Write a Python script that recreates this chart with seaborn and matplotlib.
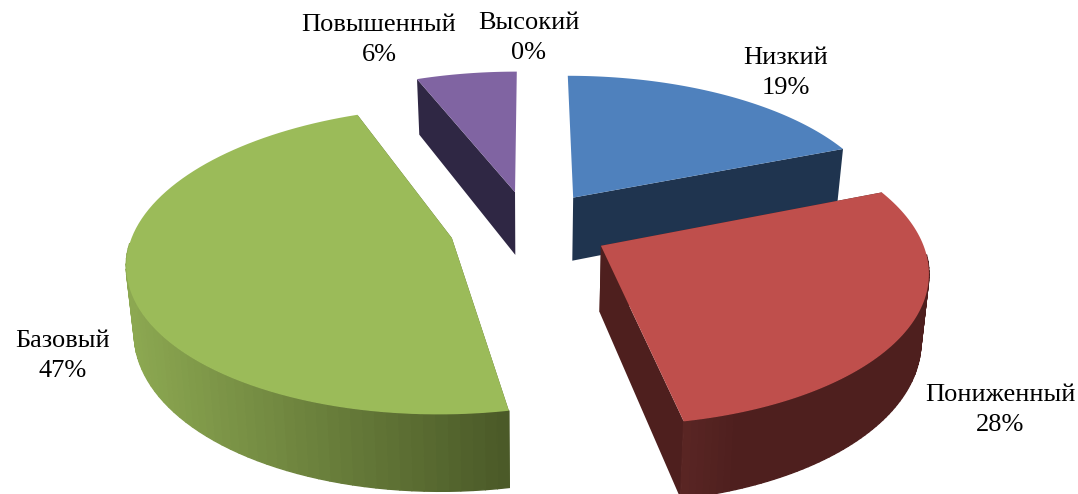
import numpy as np
import matplotlib
matplotlib.use('Agg')
import matplotlib.pyplot as plt
import seaborn as sns

# данные диаграммы
categories = ['Низкий', 'Пониженный', 'Базовый', 'Повышенный', 'Высокий']
values = [19, 28, 47, 6, 0]
top_colors = ['#4f81bd', '#bf4f4c', '#9bbb59', '#8064a2', '#4bacc6']
cut_colors = ['#1f344f', '#4e1f1e', '#4f6128', '#2f2744', '#1f4a55']

# геометрия псевдо-3D проекции (в пикселях картинки)
X0, Y0 = 529.5, 227.5
R_PX, Q_PX = 317, 147.5
PERSP = 0.145
EXPLODE = 0.2525
DEPTH = 65
BOTTOM_SHRINK = 0.98


def project(x, y, down=False):
    f = 1 / (1 + PERSP * y)
    sx = R_PX * x * f
    sy = -Q_PX * y * f
    if down:
        return X0 + sx * BOTTOM_SHRINK, Y0 + sy + DEPTH * f
    return X0 + sx, Y0 + sy


def shade(c_light, c_dark, t):
    a = np.array(matplotlib.colors.to_rgb(c_light))
    b = np.array(matplotlib.colors.to_rgb(c_dark))
    return tuple(a + (b - a) * t)


def draw_slice(ax, start, stop, i):
    mid = (start + stop) / 2
    ex = EXPLODE * np.sin(mid)
    ey = EXPLODE * np.cos(mid)
    th = np.linspace(start, stop, 90)
    xs = ex + np.sin(th)
    ys = ey + np.cos(th)

    # боковые срезы (срез точно на 12 часов не виден)
    for a in (start, stop):
        if np.cos(a) > 0.99:
            continue
        px = [ex, ex + np.sin(a)]
        py = [ey, ey + np.cos(a)]
        t0 = project(px[0], py[0])
        t1 = project(px[1], py[1])
        b1 = project(px[1], py[1], True)
        b0 = project(px[0], py[0], True)
        ax.fill([t0[0], t1[0], b1[0], b0[0]], [t0[1], t1[1], b1[1], b0[1]],
                color=cut_colors[i], lw=0)

    # внешняя стенка с градиентом, задняя часть не рисуется
    tx, ty = project(xs, ys)
    bx, by = project(xs, ys, True)
    for k in range(len(th) - 1):
        if np.cos(th[k]) > -0.05:
            continue
        if categories[i] == 'Базовый':
            t = np.clip((tx[k] - 130) / 378, 0, 1)
            col = shade('#8ca851', '#4b5a28', t)
        elif categories[i] == 'Пониженный':
            t = np.clip((tx[k] - 685) / 55, 0, 1)
            col = shade('#5a2624', '#4e1f1e', t)
        else:
            col = cut_colors[i]
        ax.fill([tx[k], tx[k + 1], bx[k + 1], bx[k]],
                [ty[k], ty[k + 1], by[k + 1], by[k]],
                facecolor=col, edgecolor=col, lw=1.0)

    # верхняя грань
    ox, oy = project(ex, ey)
    ax.fill(np.r_[ox, tx], np.r_[oy, ty], color=top_colors[i], lw=0)


sns.set_style('white')
fig, ax = plt.subplots(figsize=(10.78, 4.94), dpi=100)
fig.subplots_adjust(0, 0, 1, 1)
ax.set_xlim(0, 1078)
ax.set_ylim(494, 0)
ax.axis('off')

fracs = np.array(values) / sum(values) * 2 * np.pi
edges = np.r_[0, np.cumsum(fracs)]
for i in [3, 0, 2, 1]:
    draw_slice(ax, edges[i], edges[i + 1], i)

label_pos = [(786, 73), (1000, 410), (63, 356), (379, 40), (529, 38)]
for name, val, (lx, ly) in zip(categories, values, label_pos):
    ax.text(lx, ly, f'{name}\n{val}%', ha='center', va='center',
            fontsize=19, family='Liberation Serif', color='black', linespacing=1.43)

fig.savefig('out.png', dpi=100)
